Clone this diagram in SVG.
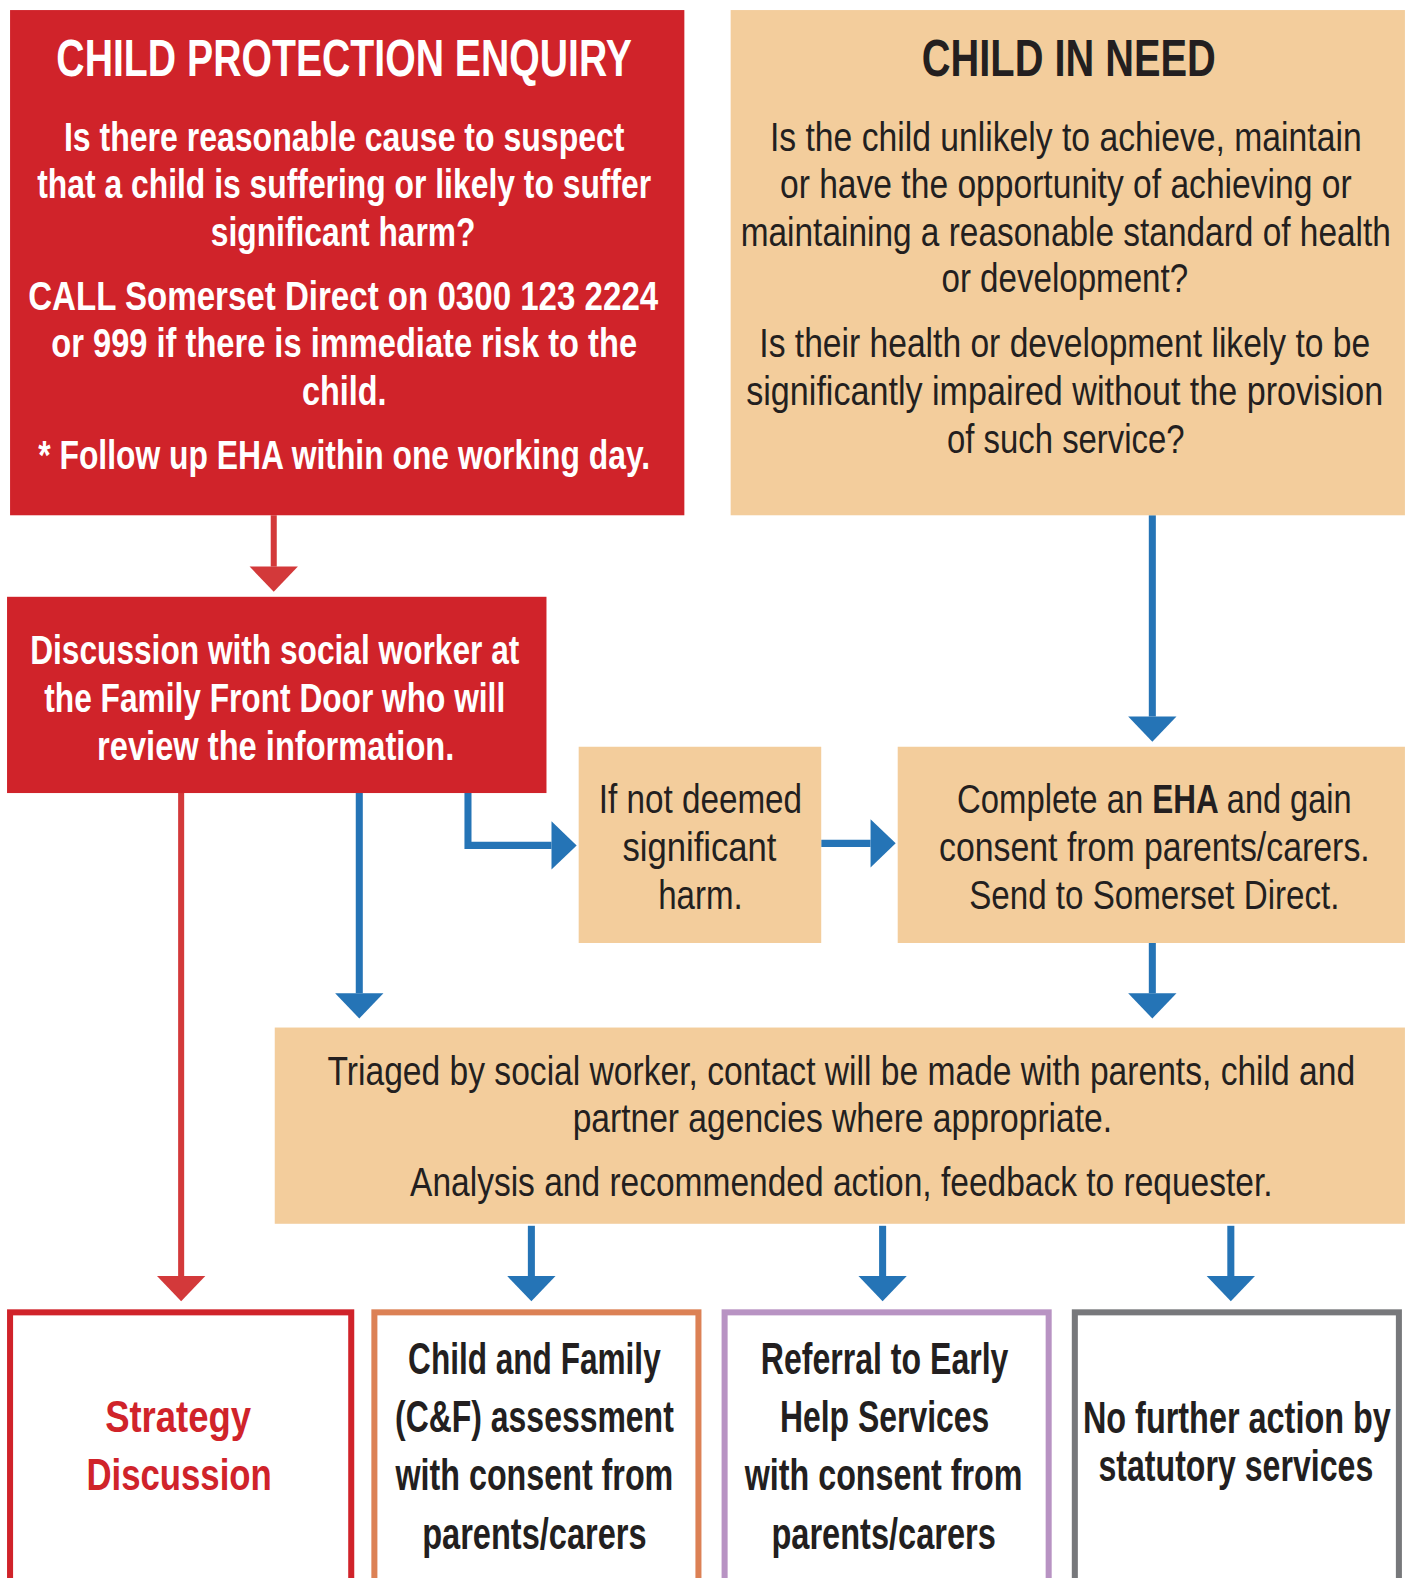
<svg xmlns="http://www.w3.org/2000/svg" width="1410" height="1578" viewBox="0 0 1410 1578">
<defs>
<style>
.red{fill:#d0232a}
.tan{fill:#f3cd9c}
.t{font-family:"Liberation Sans Narrow","Liberation Sans",Arial,sans-serif;text-anchor:middle}
.s{text-anchor:start}
.w{fill:#ffffff;font-weight:bold;font-size:41px}
.d{fill:#231f20;font-size:41px}
.ttl{font-size:51px;font-weight:bold}
.b{fill:#231f20;font-weight:bold;font-size:44px}
.bx{fill:#ffffff;stroke-width:6}
.cb{fill:none;stroke:#2574b6;stroke-width:7}
.cr{fill:none;stroke:#d3393a;stroke-width:6}
</style>
<marker id="hb" markerUnits="userSpaceOnUse" markerWidth="26" markerHeight="48" refX="0" refY="24" orient="auto" overflow="visible"><path d="M0,0 L25,24 L0,48 Z" fill="#2574b6"/></marker>
<marker id="hr" markerUnits="userSpaceOnUse" markerWidth="26" markerHeight="48" refX="0" refY="24" orient="auto" overflow="visible"><path d="M0,0 L25,24 L0,48 Z" fill="#d3393a"/></marker>
</defs>
<rect width="1410" height="1578" fill="#ffffff"/>
<g transform="scale(1.0064)">
<g id="connectors">
<path class="cr" d="M272,512 V563" marker-end="url(#hr)"/>
<path class="cb" d="M1145,512 V712" marker-end="url(#hb)"/>
<path class="cb" d="M465,788 V840 H548" marker-end="url(#hb)"/>
<path class="cb" d="M816,838 H865" marker-end="url(#hb)"/>
<path class="cb" d="M357,788 V987" marker-end="url(#hb)"/>
<path class="cb" d="M1145,937 V987" marker-end="url(#hb)"/>
<path class="cr" d="M180,788 V1268" marker-end="url(#hr)"/>
<path class="cb" d="M528,1218 V1268" marker-end="url(#hb)"/>
<path class="cb" d="M877,1218 V1268" marker-end="url(#hb)"/>
<path class="cb" d="M1223,1218 V1268" marker-end="url(#hb)"/>
</g>
<g id="cpe">
<rect class="red" x="10" y="10" width="670" height="502"/>
<text class="t w ttl" x="342" y="76" textLength="572" lengthAdjust="spacingAndGlyphs">CHILD PROTECTION ENQUIRY</text>
<text class="t w" x="342" y="150" textLength="557" lengthAdjust="spacingAndGlyphs">Is there reasonable cause to suspect</text>
<text class="t w" x="342" y="197" textLength="610" lengthAdjust="spacingAndGlyphs">that a child is suffering or likely to suffer</text>
<text class="t w" x="341" y="244" textLength="263" lengthAdjust="spacingAndGlyphs">significant harm?</text>
<text class="t w" x="341" y="308" textLength="626" lengthAdjust="spacingAndGlyphs">CALL Somerset Direct on 0300 123 2224</text>
<text class="t w" x="342" y="355" textLength="582" lengthAdjust="spacingAndGlyphs">or 999 if there is immediate risk to the</text>
<text class="t w" x="342" y="402" textLength="84" lengthAdjust="spacingAndGlyphs">child.</text>
<text class="t w" x="342" y="466" textLength="608" lengthAdjust="spacingAndGlyphs">* Follow up EHA within one working day.</text>
</g>
<g id="cin">
<rect class="tan" x="726" y="10" width="670" height="502"/>
<text class="t d ttl" x="1062" y="76" textLength="292" lengthAdjust="spacingAndGlyphs">CHILD IN NEED</text>
<text class="t d" x="1059" y="150" textLength="588" lengthAdjust="spacingAndGlyphs">Is the child unlikely to achieve, maintain</text>
<text class="t d" x="1059" y="197" textLength="568" lengthAdjust="spacingAndGlyphs">or have the opportunity of achieving or</text>
<text class="t d" x="1059" y="244" textLength="646" lengthAdjust="spacingAndGlyphs">maintaining a reasonable standard of health</text>
<text class="t d" x="1058" y="290" textLength="245" lengthAdjust="spacingAndGlyphs">or development?</text>
<text class="t d" x="1058" y="355" textLength="607" lengthAdjust="spacingAndGlyphs">Is their health or development likely to be</text>
<text class="t d" x="1058" y="402" textLength="633" lengthAdjust="spacingAndGlyphs">significantly impaired without the provision</text>
<text class="t d" x="1059" y="450" textLength="236" lengthAdjust="spacingAndGlyphs">of such service?</text>
</g>
<g id="discussion">
<rect class="red" x="7" y="593" width="536" height="195"/>
<text class="t w" x="273" y="660" textLength="486" lengthAdjust="spacingAndGlyphs">Discussion with social worker at</text>
<text class="t w" x="273" y="707" textLength="458" lengthAdjust="spacingAndGlyphs">the Family Front Door who will</text>
<text class="t w" x="274" y="755" textLength="355" lengthAdjust="spacingAndGlyphs">review the information.</text>
</g>
<g id="notharm">
<rect class="tan" x="575" y="742" width="241" height="195"/>
<text class="t d" x="696" y="808" textLength="202" lengthAdjust="spacingAndGlyphs">If not deemed</text>
<text class="t d" x="695" y="856" textLength="153" lengthAdjust="spacingAndGlyphs">significant</text>
<text class="t d" x="696" y="903" textLength="84" lengthAdjust="spacingAndGlyphs">harm.</text>
</g>
<g id="eha">
<rect class="tan" x="892" y="742" width="504" height="195"/>
<text class="t d s" x="951" y="808" textLength="185" lengthAdjust="spacingAndGlyphs">Complete an</text>
<text class="t d s" x="1145" y="808" font-weight="bold" textLength="66" lengthAdjust="spacingAndGlyphs">EHA</text>
<text class="t d s" x="1219" y="808" textLength="124" lengthAdjust="spacingAndGlyphs">and gain</text>
<text class="t d" x="1147" y="856" textLength="428" lengthAdjust="spacingAndGlyphs">consent from parents/carers.</text>
<text class="t d" x="1147" y="903" textLength="368" lengthAdjust="spacingAndGlyphs">Send to Somerset Direct.</text>
</g>
<g id="triage">
<rect class="tan" x="273" y="1021" width="1123" height="195"/>
<text class="t d" x="836" y="1078" textLength="1021" lengthAdjust="spacingAndGlyphs">Triaged by social worker, contact will be made with parents, child and</text>
<text class="t d" x="837" y="1125" textLength="536" lengthAdjust="spacingAndGlyphs">partner agencies where appropriate.</text>
<text class="t d" x="836" y="1188" textLength="857" lengthAdjust="spacingAndGlyphs">Analysis and recommended action, feedback to requester.</text>
</g>
<g id="strategy">
<rect class="bx" x="10" y="1304" width="339" height="300" stroke="#d0232a"/>
<text class="t b" x="177" y="1423" style="fill:#d0232a" textLength="145" lengthAdjust="spacingAndGlyphs">Strategy</text>
<text class="t b" x="178" y="1481" style="fill:#d0232a" textLength="184" lengthAdjust="spacingAndGlyphs">Discussion</text>
</g>
<g id="cf">
<rect class="bx" x="372" y="1304" width="322" height="300" stroke="#dc8155"/>
<text class="t b" x="531" y="1365" textLength="251" lengthAdjust="spacingAndGlyphs">Child and Family</text>
<text class="t b" x="531" y="1423" textLength="277" lengthAdjust="spacingAndGlyphs">(C&amp;F) assessment</text>
<text class="t b" x="531" y="1481" textLength="276" lengthAdjust="spacingAndGlyphs">with consent from</text>
<text class="t b" x="531" y="1539" textLength="223" lengthAdjust="spacingAndGlyphs">parents/carers</text>
</g>
<g id="referral">
<rect class="bx" x="720" y="1304" width="322" height="300" stroke="#b893c3"/>
<text class="t b" x="879" y="1365" textLength="246" lengthAdjust="spacingAndGlyphs">Referral to Early</text>
<text class="t b" x="879" y="1423" textLength="208" lengthAdjust="spacingAndGlyphs">Help Services</text>
<text class="t b" x="878" y="1481" textLength="276" lengthAdjust="spacingAndGlyphs">with consent from</text>
<text class="t b" x="878" y="1539" textLength="223" lengthAdjust="spacingAndGlyphs">parents/carers</text>
</g>
<g id="nfa">
<rect class="bx" x="1068" y="1304" width="322" height="300" stroke="#77787b"/>
<text class="t b" x="1229" y="1424" textLength="306" lengthAdjust="spacingAndGlyphs">No further action by</text>
<text class="t b" x="1228" y="1472" textLength="273" lengthAdjust="spacingAndGlyphs">statutory services</text>
</g>
</g>
</svg>
